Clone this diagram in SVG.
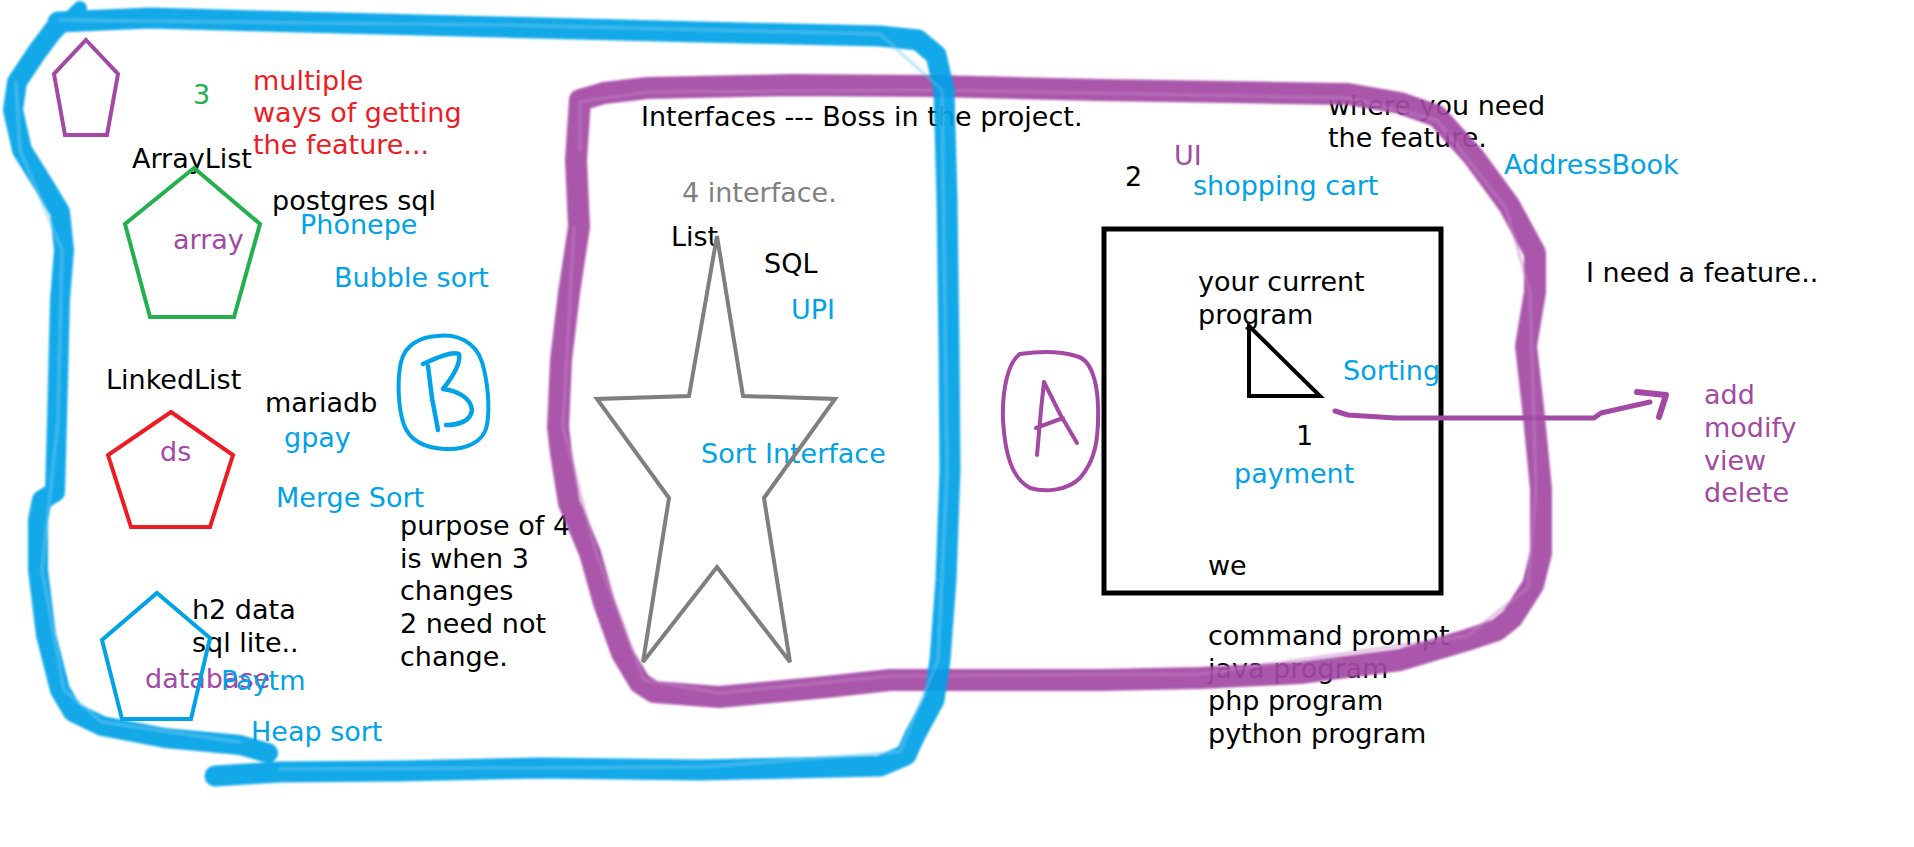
<svg xmlns="http://www.w3.org/2000/svg" width="1914" height="847" viewBox="0 0 1914 847">
<style>
text{font-family:"DejaVu Sans",Verdana,sans-serif;font-size:27px}
.k{fill:#000}.b{fill:#00a2e8}.p{fill:#a349a4}.r{fill:#ed1c24}.g{fill:#22b14c}.gr{fill:#7f7f7f}
.shape{fill:none;stroke-linejoin:miter}
.hl{fill:none;stroke-linecap:round;stroke-linejoin:round}
.pen{fill:none;stroke-linecap:round;stroke-linejoin:round}
</style>
<defs>
<filter id="soft" x="-5%" y="-5%" width="110%" height="110%"><feGaussianBlur stdDeviation="0.9"/></filter>
</defs>
<rect width="1914" height="847" fill="#fff"/>

<g id="texts-left">
<text class="g" x="193" y="104">3</text>
<text class="r" x="253" y="90">multiple</text>
<text class="r" x="253" y="122">ways of getting</text>
<text class="r" x="253" y="154">the feature...</text>
<text class="k" x="132" y="168">ArrayList</text>
<text class="k" x="272" y="210">postgres sql</text>
<text class="b" x="300" y="234">Phonepe</text>
<text class="p" x="173" y="249">array</text>
<text class="b" x="334" y="287">Bubble sort</text>
<text class="k" x="106" y="389">LinkedList</text>
<text class="k" x="265" y="412">mariadb</text>
<text class="b" x="284" y="447">gpay</text>
<text class="p" x="160" y="461">ds</text>
<text class="b" x="276" y="507">Merge Sort</text>
<text class="k" x="400" y="535">purpose of 4</text>
<text class="k" x="400" y="568">is when 3</text>
<text class="k" x="400" y="600">changes</text>
<text class="k" x="400" y="633">2 need not</text>
<text class="k" x="400" y="666">change.</text>
<text class="k" x="192" y="619">h2 data</text>
<text class="k" x="192" y="652">sql lite..</text>
<text class="p" x="145" y="688">database</text>
<text class="b" x="221" y="690">Paytm</text>
<text class="b" x="251" y="741">Heap sort</text>
</g>

<g id="texts-middle">
<text class="k" x="641" y="126">Interfaces --- Boss in the project.</text>
<text class="gr" x="682" y="202">4 interface.</text>
<text class="k" x="671" y="246">List</text>
<text class="k" x="764" y="273">SQL</text>
<text class="b" x="791" y="319">UPI</text>
<text class="b" x="701" y="463">Sort Interface</text>
</g>

<g id="texts-right">
<text class="k" x="1328" y="115">where you need</text>
<text class="k" x="1328" y="147">the feature.</text>
<text class="p" x="1174" y="165">UI</text>
<text class="k" x="1125" y="186">2</text>
<text class="b" x="1193" y="195">shopping cart</text>
<text class="b" x="1504" y="174">AddressBook</text>
<text class="k" x="1586" y="282">I need a feature..</text>
<text class="k" x="1198" y="291">your current</text>
<text class="k" x="1198" y="324">program</text>
<text class="b" x="1343" y="380">Sorting</text>
<text class="k" x="1296" y="445">1</text>
<text class="b" x="1234" y="483">payment</text>
<text class="k" x="1208" y="575">we</text>
<text class="k" x="1208" y="645">command prompt</text>
<text class="k" x="1208" y="678">java program</text>
<text class="k" x="1208" y="710">php program</text>
<text class="k" x="1208" y="743">python program</text>
<text class="p" x="1704" y="404">add</text>
<text class="p" x="1704" y="437">modify</text>
<text class="p" x="1704" y="470">view</text>
<text class="p" x="1704" y="502">delete</text>
</g>

<g id="pentagon-purple"><polygon class="shape" points="86,40 118,74 107,135 65,135 54,74" stroke="#a349a4" stroke-width="4"/></g>
<g id="pentagon-array"><polygon class="shape" points="194,168 260,224 234,317 150,317 125,224" stroke="#22b14c" stroke-width="4"/></g>
<g id="pentagon-ds"><polygon class="shape" points="171,412 233,455 210,527 131,527 108,455" stroke="#ed1c24" stroke-width="4"/></g>
<g id="pentagon-database"><polygon class="shape" points="157,593 210,638 191,719 122,719 102,640" stroke="#00a2e8" stroke-width="4"/></g>

<g id="star-interface"><polygon class="shape" points="717,236 743,396 835,399 764,498 790,662 717,567 643,662 669,498 597,399 689,396" stroke="#7f7f7f" stroke-width="4"/></g>

<g id="program-box">
<rect x="1104" y="229" width="337" height="364" fill="none" stroke="#000" stroke-width="5"/>
<polygon class="shape" points="1249,326 1249,396 1320,396" stroke="#000" stroke-width="4"/>
</g>

<g id="label-B">
<path class="pen" stroke="#00a2e8" stroke-width="4" d="M437,336 C458,333 476,343 482,362 C488,382 490,408 487,425 C484,442 466,450 445,449 C425,448 410,441 404,425 C398,408 397,380 401,362 C405,345 420,337 437,336 Z"/>
<path class="pen" stroke="#00a2e8" stroke-width="4.5" d="M428,366 L432,398 L438,430 M423,364 C436,358 452,351 459,354 C461,364 451,379 443,389 C458,391 471,398 472,410 C471,421 459,425 446,425"/>
</g>

<g id="label-A">
<path class="pen" stroke="#a349a4" stroke-width="4" d="M1020,354 C1040,351 1060,351 1076,356 C1091,359 1097,381 1098,405 C1099,440 1095,461 1080,478 C1068,490 1046,493 1030,488 C1012,478 1005,455 1003,420 C1002,390 1008,362 1020,354 Z"/>
<path class="pen" stroke="#a349a4" stroke-width="4" d="M1037,455 L1041,410 L1044,382 L1060,414 L1077,443 M1036,428 L1063,418"/>
</g>

<g id="connectors">
<path class="pen" stroke="#a349a4" stroke-width="5" d="M1335,411 L1348,415 L1395,418 L1594,418 L1601,413 L1650,402"/>
<path class="pen" stroke="#a349a4" stroke-width="6" d="M1637,392 L1666,395 L1659,417"/>
</g>

<g id="loop-A" opacity="0.92" filter="url(#soft)">
<path class="hl" stroke="#a349a4" stroke-width="22" d="M580,100 L604,93 L647,88 L790,85 L933,86 L1100,90 L1348,94 L1400,103 L1437,116 L1473,156 L1509,205 L1535,253 L1535,292 L1526,346 L1534,417 L1541,489 L1541,553 L1533,585 L1512,618 L1497,630 L1467,640 L1400,660 L1300,673 L1200,678 L1100,680 L890,680 L826,687 L719,697 L654,692 L640,683 L622,653 L604,603 L590,553 L569,503 L561,453 L558,427 L561,360 L569,293 L579,227 L576,160 Z"/>
<path class="hl" stroke="#c07ac1" stroke-width="3" opacity="0.5" d="M580,150 L580,102 L647,92 L933,90 L1348,98 L1437,120 L1506,208 L1530,292 L1536,489 L1528,588 L1467,636 L1200,674 L890,676 L719,693 L644,680 L596,553 L563,427 L574,227"/>
</g>

<g id="loop-B" opacity="0.92" filter="url(#soft)">
<path class="hl" stroke="#00a2e8" stroke-width="21" d="M58,22 L150,18 L300,22 L500,27 L700,32 L880,36 L918,40 L936,55 L944,90 L947,200 L949,350 L950,470 L946,580 L940,660 L934,700 L915,735 L906,755 L880,766 L700,770 L540,768 L400,771 L280,772 L215,776"/>
<path class="hl" stroke="#00a2e8" stroke-width="20" d="M268,753 L240,745 L165,738 L102,726 L73,712 L60,690 L46,635 L38,570 L38,520 L42,500 L55,492 L57,420 L60,300 L64,250 L60,212 L45,187 L22,150 L13,110 L17,82 L37,52 L58,24"/>
<path class="hl" stroke="#00a2e8" stroke-width="14" d="M52,36 L80,8"/>
<path class="hl" stroke="#5cc6f0" stroke-width="3" opacity="0.5" d="M60,20 L500,25 L880,34 L942,90 L947,470 L938,660 L900,752 L700,767 L280,769 M240,742 L102,722 L64,690 L42,570 L58,420 L62,250 L20,150 L16,82"/>
</g>
</svg>
